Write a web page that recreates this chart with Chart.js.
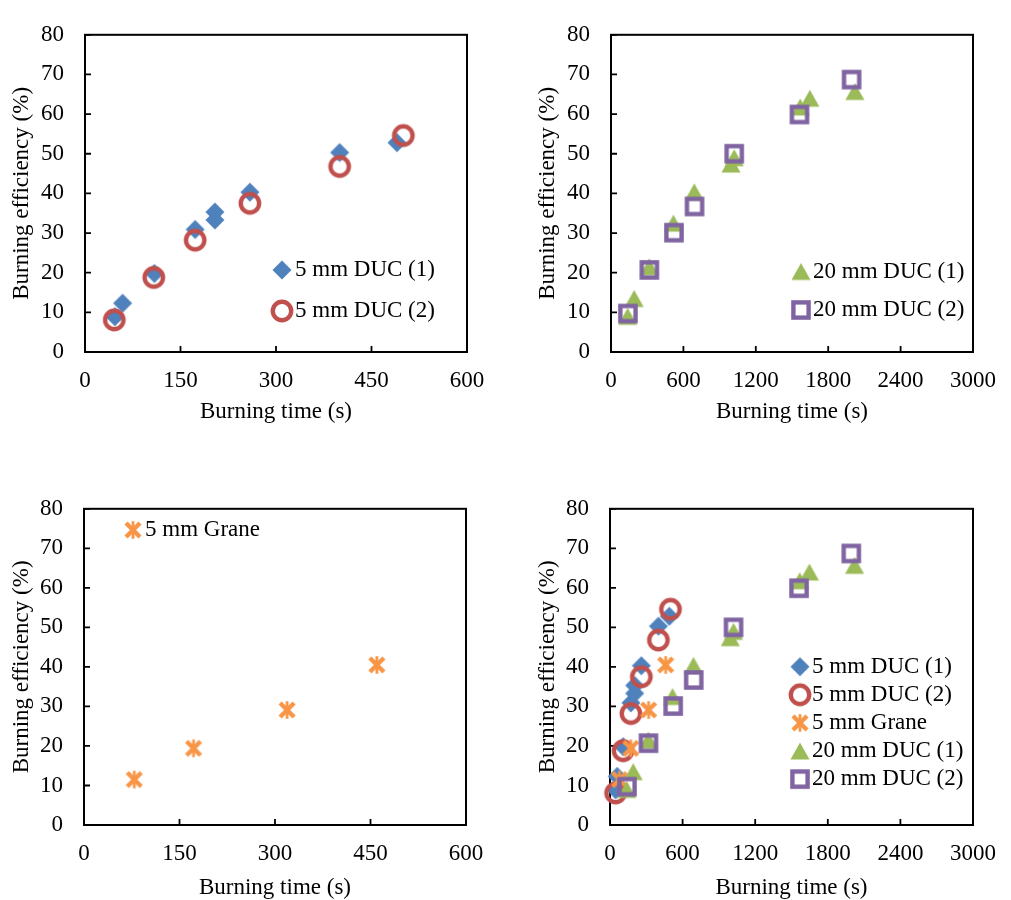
<!DOCTYPE html>
<html><head><meta charset="utf-8">
<script src="https://cdn.jsdelivr.net/npm/chart.js@4.4.0/dist/chart.umd.min.js"></script>
<style>
html,body{margin:0;padding:0;background:#fff;}
body{width:1011px;height:900px;position:relative;overflow:hidden;}
canvas{position:absolute;}
</style></head><body>
<canvas id="c1" width="505" height="440" style="left:0;top:0"></canvas>
<canvas id="c2" width="485" height="440" style="left:526px;top:0"></canvas>
<canvas id="c3" width="505" height="439" style="left:0;top:474px"></canvas>
<canvas id="c4" width="485" height="439" style="left:526px;top:474px"></canvas>
<script>
// ---- data ----
const seriesNames = ['5 mm DUC (1)', '5 mm DUC (2)', '5 mm Grane', '20 mm DUC (1)', '20 mm DUC (2)'];
const duc5aTime = [47, 59, 109, 173, 204, 204, 259, 400, 490];
const duc5aEff  = [8.9, 12.3, 19.8, 30.9, 35.3, 33.3, 40.3, 50.3, 52.8];
const duc5bTime = [46, 108, 173, 259, 400, 500];
const duc5bEff  = [8.1, 18.8, 28.2, 37.5, 46.8, 54.6];
const graneTime = [79, 172, 319, 460];
const graneEff  = [11.5, 19.4, 29.1, 40.5];
const duc20aTime = [138, 192, 317, 517, 690, 994, 1021, 1568, 1648, 2021];
const duc20aEff  = [9.0, 13.5, 21.5, 32.5, 40.4, 47.4, 49.0, 61.8, 64.0, 65.7];
const duc20bTime = [140, 318, 522, 692, 1021, 1562, 1994];
const duc20bEff  = [9.7, 20.7, 30.1, 36.7, 50.0, 59.9, 68.7];
const yTicks = [0, 10, 20, 30, 40, 50, 60, 70, 80];
const xTicks5mm = [0, 150, 300, 450, 600];
const xTicks20mm = [0, 600, 1200, 1800, 2400, 3000];
const xTitle = 'Burning time (s)';
const yTitle = 'Burning efficiency (%)';

// ---- marker glyphs ----
const FONT = '"Liberation Serif", "Times New Roman", serif';
const FS = 23;
function mk(draw) {
  const c = document.createElement('canvas');
  c.width = 28; c.height = 28;
  const g = c.getContext('2d');
  g.translate(14, 14);
  draw(g);
  return c;
}
const markers = [
  mk(g => { g.fillStyle = '#4F81BD'; g.beginPath(); g.moveTo(0,-9.5); g.lineTo(9.5,0); g.lineTo(0,9.5); g.lineTo(-9.5,0); g.closePath(); g.fill(); }),
  mk(g => { g.strokeStyle = '#C0504D'; g.lineWidth = 4.4; g.beginPath(); g.arc(0,0,9.2,0,Math.PI*2); g.stroke(); }),
  mk(g => { g.strokeStyle = '#F79646'; g.lineWidth = 4.4; g.beginPath(); g.moveTo(-7,-7); g.lineTo(7,7); g.moveTo(7,-7); g.lineTo(-7,7); g.stroke();
            g.lineWidth = 2.8; g.beginPath(); g.moveTo(0,-8.8); g.lineTo(0,8.8); g.stroke(); }),
  mk(g => { g.fillStyle = '#9BBB59'; g.beginPath(); g.moveTo(0,-8.5); g.lineTo(9.5,8.5); g.lineTo(-9.5,8.5); g.closePath(); g.fill(); }),
  mk(g => { g.strokeStyle = '#8064A2'; g.lineWidth = 4.4; g.strokeRect(-7.6,-7.6,15.2,15.2); })
];
const colors = ['#4F81BD', '#C0504D', '#F79646', '#9BBB59', '#8064A2'];
const seriesData = [
  [duc5aTime, duc5aEff], [duc5bTime, duc5bEff], [graneTime, graneEff],
  [duc20aTime, duc20aEff], [duc20bTime, duc20bEff]
];

function dataset(i, ord) {
  const [t, e] = seriesData[i];
  return {
    label: seriesNames[i],
    data: t.map((v, k) => ({x: v, y: e[k]})),
    pointStyle: markers[i],
    pointRadius: 10,
    pointHoverRadius: 10,
    borderColor: colors[i],
    backgroundColor: colors[i],
    showLine: false,
    order: ord,
    clip: false
  };
}

// ---- plugins ----
const frame = {
  id: 'frame',
  beforeDatasetsDraw(chart) {
    const {ctx, chartArea: a, scales} = chart;
    ctx.save();
    ctx.strokeStyle = '#000';
    ctx.lineWidth = 2;
    ctx.strokeRect(a.left, a.top, a.right - a.left, a.bottom - a.top);
    ctx.lineWidth = 1.8;
    ctx.beginPath();
    scales.x.ticks.forEach(t => {
      const px = scales.x.getPixelForValue(t.value);
      ctx.moveTo(px, a.bottom); ctx.lineTo(px, a.bottom - 6);
    });
    scales.y.ticks.forEach(t => {
      const py = scales.y.getPixelForValue(t.value);
      ctx.moveTo(a.left, py); ctx.lineTo(a.left + 6, py);
    });
    ctx.stroke();
    ctx.restore();
  }
};
const inLegend = {
  id: 'inLegend',
  afterDatasetsDraw(chart, args, opts) {
    const {ctx} = chart;
    ctx.save();
    ctx.font = FS + 'px ' + FONT;
    ctx.fillStyle = '#000';
    ctx.textBaseline = 'middle';
    ctx.textAlign = 'left';
    opts.items.forEach((si, k) => {
      const y = opts.y + k * opts.dy;
      const m = markers[si];
      ctx.drawImage(m, opts.x - m.width / 2, y - m.height / 2);
      ctx.fillText(seriesNames[si], opts.x + opts.gap, y);
    });
    ctx.restore();
  }
};

function makeChart(id, series, xt, pad, yw, titleGap, legend) {
  const ds = series.map((s, k) => dataset(s, 100 - k));
  new Chart(document.getElementById(id), {
    type: 'scatter',
    data: {datasets: ds},
    plugins: [frame, inLegend],
    options: {
      responsive: false,
      animation: false,
      events: [],
      layout: {padding: pad},
      plugins: {legend: {display: false}, tooltip: {enabled: false}, inLegend: legend},
      scales: {
        x: {
          type: 'linear', min: xt[0], max: xt[xt.length - 1],
          afterBuildTicks: s => { s.ticks = xt.map(v => ({value: v})); },
          grid: {display: false, drawTicks: false},
          border: {display: false},
          ticks: {color: '#000', font: {family: FONT, size: FS}, padding: 15, maxRotation: 0, autoSkip: false,
                  callback: v => String(v)},
          title: {display: true, text: xTitle, color: '#000', font: {family: FONT, size: FS}, padding: {top: 0, bottom: titleGap}},
          afterFit: s => { s.height = 88; }
        },
        y: {
          type: 'linear', min: yTicks[0], max: yTicks[yTicks.length - 1],
          afterBuildTicks: s => { s.ticks = yTicks.map(v => ({value: v})); },
          grid: {display: false, drawTicks: false},
          border: {display: false},
          ticks: {color: '#000', font: {family: FONT, size: FS}, padding: 21, callback: v => String(v)},
          title: {display: true, text: yTitle, color: '#000', font: {family: FONT, size: FS}, padding: {top: 8, bottom: 0}},
          afterFit: s => { s.width = yw; }
        }
      }
    }
  });
}

makeChart('c1', [0, 1], xTicks5mm, {top: 21, right: 38, left: 0, bottom: 0}, 85, 14, {items: [0, 1], x: 282, y: 270, dy: 41, gap: 13});
makeChart('c2', [3, 4], xTicks20mm, {top: 21, right: 24, left: 0, bottom: 0}, 85, 14, {items: [3, 4], x: 275, y: 271.5, dy: 38.5, gap: 12});
makeChart('c3', [2], xTicks5mm, {top: 21, right: 39, left: 0, bottom: 0}, 84, 11, {items: [2], x: 133, y: 56, dy: 28, gap: 12});
makeChart('c4', [0, 1, 2, 3, 4], xTicks20mm, {top: 21, right: 24, left: 0, bottom: 0}, 84, 11, {items: [0, 1, 2, 3, 4], x: 274, y: 192.7, dy: 28.1, gap: 12});
</script>
</body></html>
